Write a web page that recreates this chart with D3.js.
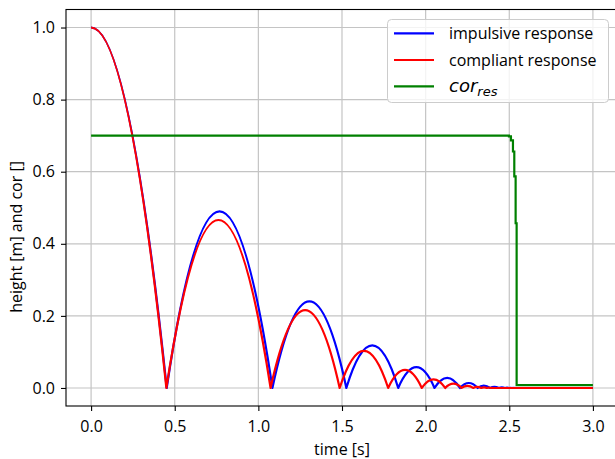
<!DOCTYPE html>
<html><head><meta charset="utf-8">
<script src="https://cdn.jsdelivr.net/npm/d3@7"></script>
<style>
html,body{margin:0;padding:0;background:#fff;overflow:hidden;}
text{font-family:"Open Sans",sans-serif;fill:#000;}
</style></head>
<body>
<script>
// ---- data ----
const xTicks = [0, 0.5, 1.0, 1.5, 2.0, 2.5, 3.0];
const yTicks = [0, 0.2, 0.4, 0.6, 0.8, 1.0];
const startHeight = 1.0;
const endTime = 3.0;
// impulsive response: ground impacts [s] and peak height of each following arc [m]
const impulsiveImpacts = [0.452, 1.084, 1.526, 1.836, 2.053, 2.205, 2.311, 2.385, 2.437, 2.474, 2.499, 2.517, 2.529, 2.538];
const impulsivePeaks   = [0.490, 0.240, 0.118, 0.0576, 0.0282, 0.0138, 0.0068, 0.0033, 0.0016, 0.0008, 0.0004, 0.0002, 0.0001];
// compliant response
const compliantImpacts = [0.450, 1.073, 1.486, 1.776, 1.977, 2.117, 2.215, 2.284, 2.332, 2.366, 2.390, 2.406];
const compliantPeaks   = [0.466, 0.216, 0.103, 0.050, 0.024, 0.0118, 0.0058, 0.0028, 0.0014, 0.0007, 0.0003];
// coefficient of restitution
const corTimes  = [0, 2.498, 2.510, 2.522, 2.530, 2.538, 2.544, 3.0];
const corValues = [0.700, 0.698, 0.687, 0.656, 0.587, 0.457, 0.008, 0.008];
const seriesNames = ["impulsive response", "compliant response", "cor_res"];
const seriesColors = ["#0000ff", "#ff0000", "#008000"];

// ---- layout ----
const W = 615, H = 459;
const L = 66, R = 618, T = 9.5, B = 406;
const svg = d3.select("body").append("svg").attr("width", W).attr("height", H);
const x = d3.scaleLinear().domain([-0.15, 3.15]).range([L, R]);
const y = d3.scaleLinear().domain([-0.05, 1.05]).range([B, T]);
const FS = 16;

// grid
const g = svg.append("g");
g.selectAll("line.vx").data(xTicks).join("line")
  .attr("x1", d => x(d)).attr("x2", d => x(d)).attr("y1", T).attr("y2", B)
  .attr("stroke", "#c4c4c4").attr("stroke-width", 1.2);
g.selectAll("line.hy").data(yTicks).join("line")
  .attr("x1", L).attr("x2", R).attr("y1", d => y(d)).attr("y2", d => y(d))
  .attr("stroke", "#c4c4c4").attr("stroke-width", 1.2);

// bouncing curves
function bounce(impacts, peaks) {
  const p = d3.path();
  p.moveTo(x(0), y(startHeight));
  p.quadraticCurveTo(x(impacts[0] / 2), y(startHeight), x(impacts[0]), y(0));
  for (let i = 0; i < peaks.length; i++) {
    const t0 = impacts[i], t1 = impacts[i + 1];
    p.quadraticCurveTo(x((t0 + t1) / 2), y(2 * peaks[i]), x(t1), y(0));
  }
  p.lineTo(x(endTime), y(0));
  return p.toString();
}
svg.append("clipPath").attr("id", "c").append("rect")
  .attr("x", L).attr("y", T).attr("width", R - L).attr("height", B - T);
const plot = svg.append("g").attr("clip-path", "url(#c)");
plot.append("path").attr("d", bounce(impulsiveImpacts, impulsivePeaks))
  .attr("fill", "none").attr("stroke", seriesColors[0]).attr("stroke-width", 2.2).attr("stroke-linejoin", "round");
plot.append("path").attr("d", bounce(compliantImpacts, compliantPeaks))
  .attr("fill", "none").attr("stroke", seriesColors[1]).attr("stroke-width", 2.2).attr("stroke-linejoin", "round");
const corLine = d3.line().x((d, i) => x(corTimes[i])).y(d => y(d)).curve(d3.curveStepAfter);
plot.append("path").attr("d", corLine(corValues))
  .attr("fill", "none").attr("stroke", seriesColors[2]).attr("stroke-width", 2.2);

// axes
const xa = svg.append("g").attr("transform", `translate(0,${B})`)
  .call(d3.axisBottom(x).tickValues(xTicks).tickFormat(d3.format(".1f")).tickSize(5).tickPadding(10).tickSizeOuter(0));
const ya = svg.append("g").attr("transform", `translate(${L},0)`)
  .call(d3.axisLeft(y).tickValues(yTicks).tickFormat(d3.format(".1f")).tickSize(5).tickPadding(6).tickSizeOuter(0));
[xa, ya].forEach(a => {
  a.select(".domain").remove();
  a.selectAll("line").attr("stroke", "#000").attr("stroke-width", 1.1);
  a.selectAll("text").attr("font-size", FS).attr("font-family", "Open Sans");
});
// spines
svg.append("rect").attr("x", L).attr("y", T).attr("width", R - L).attr("height", B - T)
  .attr("fill", "none").attr("stroke", "#000").attr("stroke-width", 1.1);

// axis labels
svg.append("text").attr("x", (L + R) / 2).attr("y", 455).attr("text-anchor", "middle")
  .attr("font-size", FS).text("time [s]");
svg.append("text").attr("transform", "translate(22,237) rotate(-90)").attr("text-anchor", "middle")
  .attr("font-size", FS).text("height [m] and cor []");

// legend
const lg = svg.append("g");
lg.append("rect").attr("x", 387.5).attr("y", 19.5).attr("width", 221).attr("height", 83).attr("rx", 4)
  .attr("fill", "#fff").attr("fill-opacity", 0.8).attr("stroke", "#cccccc").attr("stroke-width", 1);
const rows = [33.3, 60, 86.3];
seriesNames.forEach((n, i) => {
  lg.append("line").attr("x1", 394).attr("x2", 434).attr("y1", rows[i]).attr("y2", rows[i])
    .attr("stroke", seriesColors[i]).attr("stroke-width", 2.2);
});
lg.append("text").attr("x", 449).attr("y", rows[0] + 6).attr("font-size", FS).text(seriesNames[0]);
lg.append("text").attr("x", 449).attr("y", rows[1] + 6).attr("font-size", FS).text(seriesNames[1]);
const ct = lg.append("text").attr("x", 449).attr("y", rows[2] + 6)
  .style("font-family", "'DejaVu Sans'").style("font-style", "italic").attr("font-size", 18);
ct.append("tspan").text("cor");
ct.append("tspan").attr("font-size", 13).attr("dy", 4).text("res");
</script>
</body></html>
